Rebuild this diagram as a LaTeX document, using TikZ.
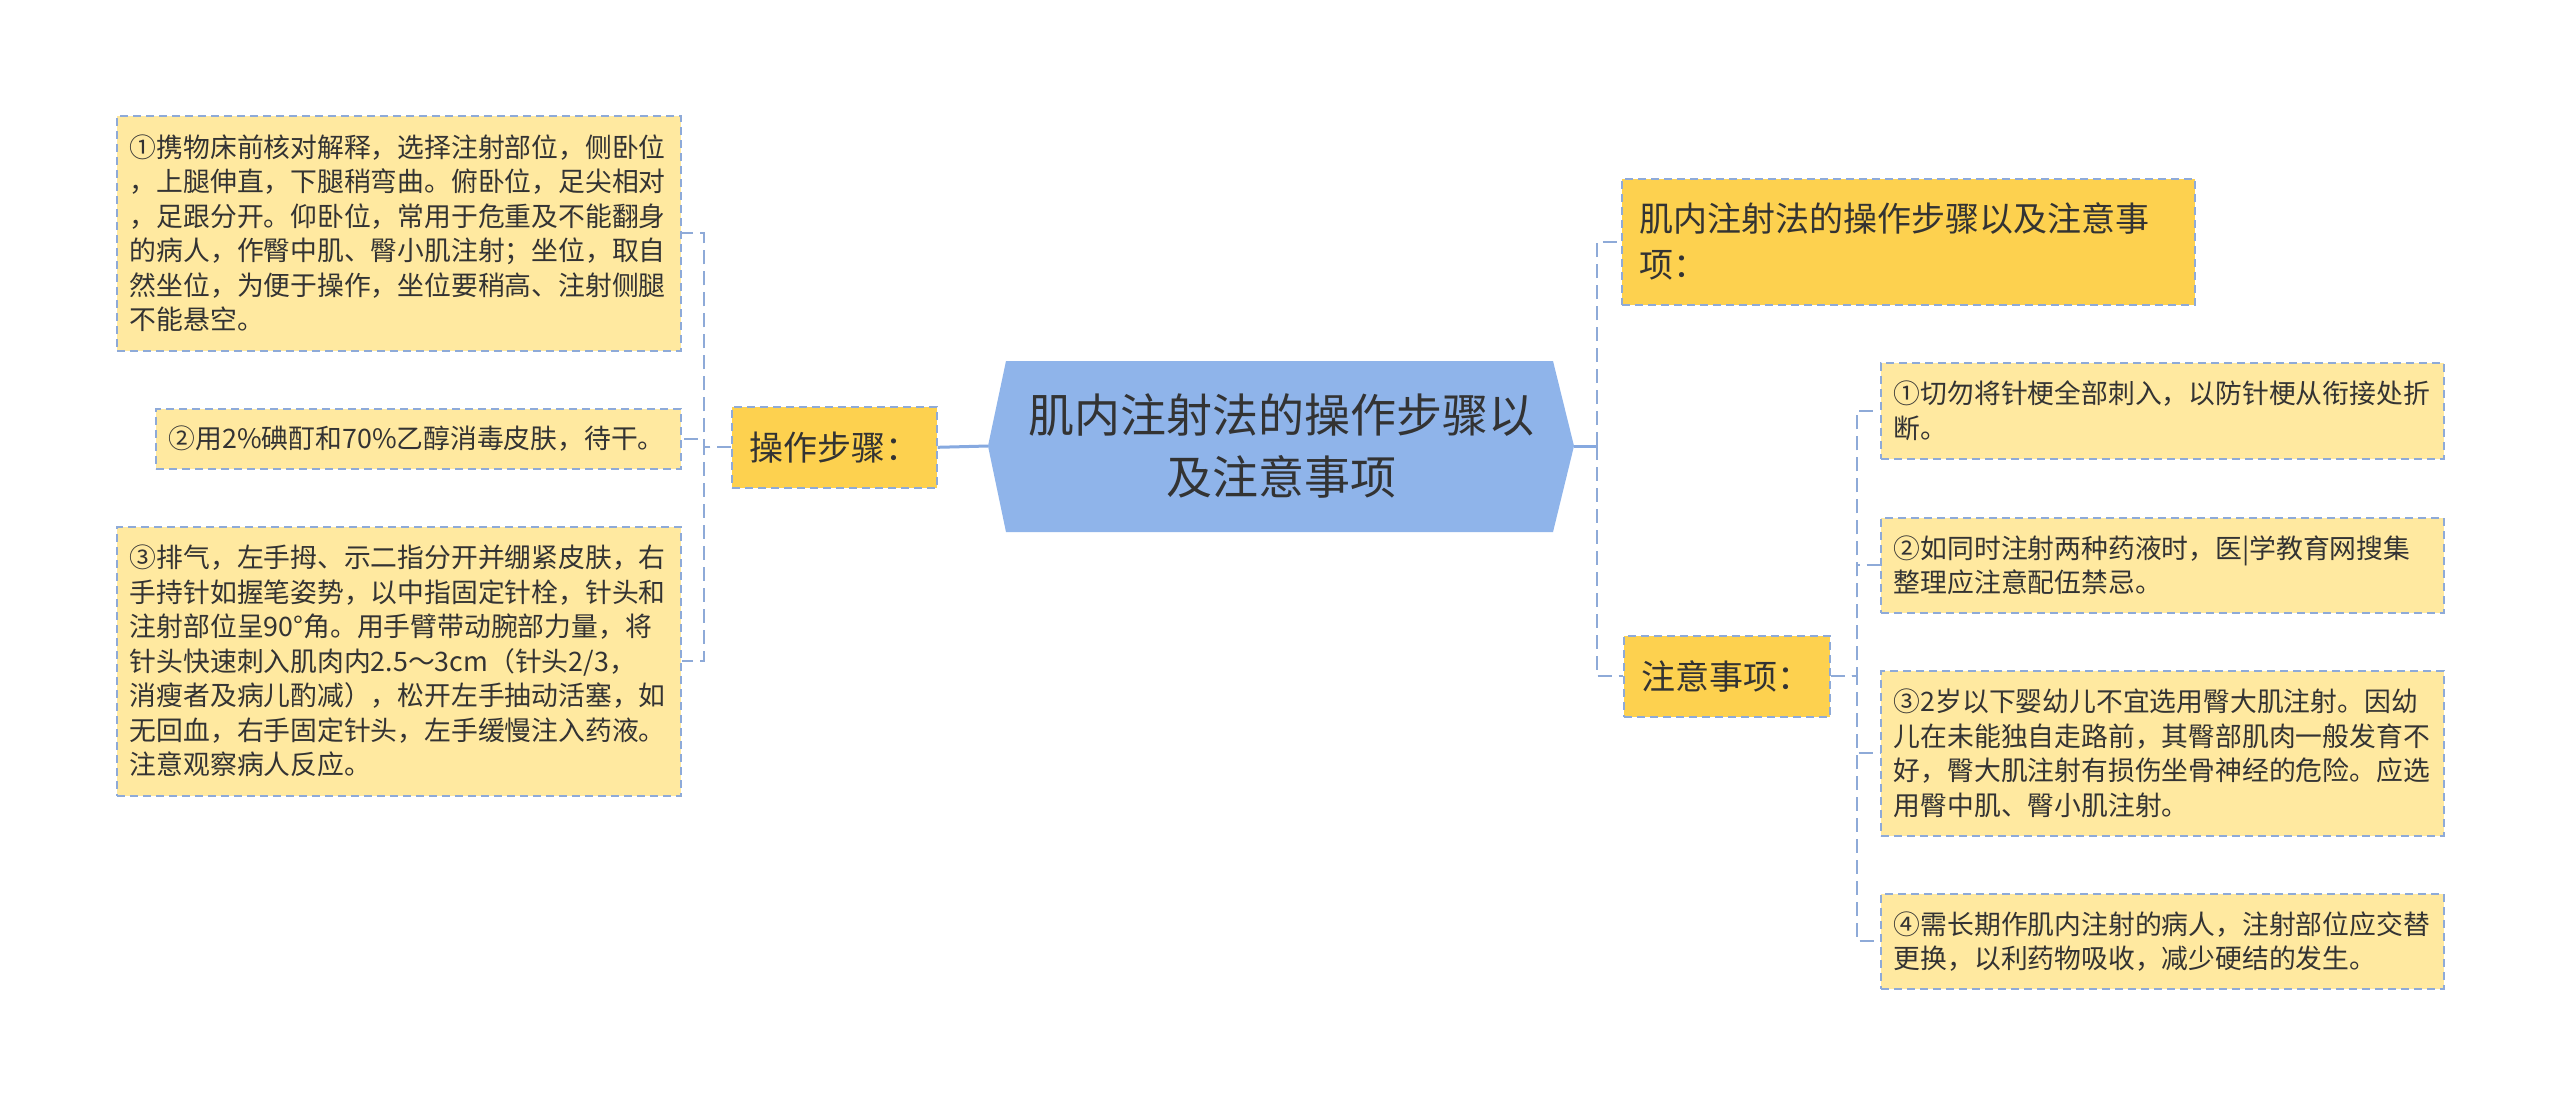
\documentclass[tikz,border=0pt]{standalone}
\usepackage{fontspec}
\setmainfont{Noto Sans CJK SC}
\usepackage{tikz}
\usetikzlibrary{calc}

\definecolor{leaffill}{HTML}{FFE9A0}
\definecolor{mainfill}{HTML}{FDD14F}
\definecolor{rootfill}{HTML}{8FB4EA}
\definecolor{edgeblue}{HTML}{8EAAD8}
\definecolor{solidblue}{HTML}{86A9E0}
\definecolor{txt}{HTML}{333333}

\begin{document}
\begin{tikzpicture}[x=0.5pt,y=-0.5pt,
    boxline/.style={draw=edgeblue,line width=0.8pt,dash pattern=on 4pt off 2.5pt},
    leafbox/.style={boxline,fill=leaffill,anchor=north west,align=left,inner xsep=6.5pt,inner ysep=0pt,
      font=\fontsize{13.4}{17.25}\selectfont,text=txt},
    mainbox/.style={boxline,fill=mainfill,anchor=north west,align=left,inner xsep=8.75pt,inner ysep=0pt,
      font=\fontsize{17}{23}\selectfont,text=txt},
    link/.style={draw=edgeblue,line width=1pt,dash pattern=on 7pt off 3.5pt},
    rootlink/.style={draw=solidblue,line width=1.5pt}]

\fill[white] (0,0) rectangle (2560,1104);

% center
\coordinate (rootL) at (988,446);
\coordinate (rootR) at (1574,446);
\fill[rootfill] (rootL) -- (1006,361) -- (1553,361) -- (rootR) -- (1553,532) -- (1006,532) -- cycle;
\node[align=center,text=txt,font=\fontsize{23}{31}\selectfont] (root) at (1281,446)
  {肌内注射法的操作步骤以\\及注意事项};

% left branch
\node[mainbox,text width=85pt,minimum height=40.5pt] (buzhou) at (731,406) {操作步骤：};

\node[leafbox,text width=269pt,minimum height=117.5pt] (step1) at (116,115)
  {①携物床前核对解释，选择注射部位，侧卧位\\，上腿伸直，下腿稍弯曲。俯卧位，足尖相对\\，足跟分开。仰卧位，常用于危重及不能翻身\\的病人，作臀中肌、臀小肌注射；坐位，取自\\然坐位，为便于操作，坐位要稍高、注射侧腿\\不能悬空。};
\node[leafbox,text width=249.5pt,minimum height=30pt] (step2) at (155,408)
  {②用2\%碘酊和70\%乙醇消毒皮肤，待干。};
\node[leafbox,text width=269pt,minimum height=134.5pt] (step3) at (116,526)
  {③排气，左手拇、示二指分开并绷紧皮肤，右\\手持针如握笔姿势，以中指固定针栓，针头和\\注射部位呈90°角。用手臂带动腕部力量，将\\针头快速刺入肌肉内2.5～3cm（针头2/3，\\消瘦者及病儿酌减），松开左手抽动活塞，如\\无回血，右手固定针头，左手缓慢注入药液。\\注意观察病人反应。};

\draw[rootlink] (rootL) -- (buzhou.east);
\draw[link] (buzhou.west) -- ++(-27,0) |- (step1.east);
\draw[link] (buzhou.west) -- ++(-27,0) |- (step2.east);
\draw[link] (buzhou.west) -- ++(-27,0) |- (step3.east);

% right branch
\node[mainbox,text width=269pt,minimum height=63pt] (title) at (1621,178)
  {肌内注射法的操作步骤以及注意事\\项：};
\node[mainbox,text width=85.5pt,minimum height=40.5pt] (zhuyi) at (1623,635) {注意事项：};

\node[leafbox,text width=268.5pt,minimum height=48pt] (tip1) at (1880,362)
  {①切勿将针梗全部刺入，以防针梗从衔接处折\\断。};
\node[leafbox,text width=268.5pt,minimum height=47.5pt] (tip2) at (1880,517)
  {②如同时注射两种药液时，医|学教育网搜集\\整理应注意配伍禁忌。};
\node[leafbox,text width=268.5pt,minimum height=82.5pt] (tip3) at (1880,670)
  {③2岁以下婴幼儿不宜选用臀大肌注射。因幼\\儿在未能独自走路前，其臀部肌肉一般发育不\\好，臀大肌注射有损伤坐骨神经的危险。应选\\用臀中肌、臀小肌注射。};
\node[leafbox,text width=268.5pt,minimum height=47.5pt] (tip4) at (1880,893)
  {④需长期作肌内注射的病人，注射部位应交替\\更换，以利药物吸收，减少硬结的发生。};

\draw[rootlink] (rootR) -- ++(23,0) coordinate (hubR);
\draw[link] (hubR) |- (title.west);
\draw[link] (hubR) |- (zhuyi.west);
\draw[link] (zhuyi.east) -- ++(26,0) |- (tip1.west);
\draw[link] (zhuyi.east) -- ++(26,0) |- (tip2.west);
\draw[link] (zhuyi.east) -- ++(26,0) |- (tip3.west);
\draw[link] (zhuyi.east) -- ++(26,0) |- (tip4.west);
\end{tikzpicture}
\end{document}
